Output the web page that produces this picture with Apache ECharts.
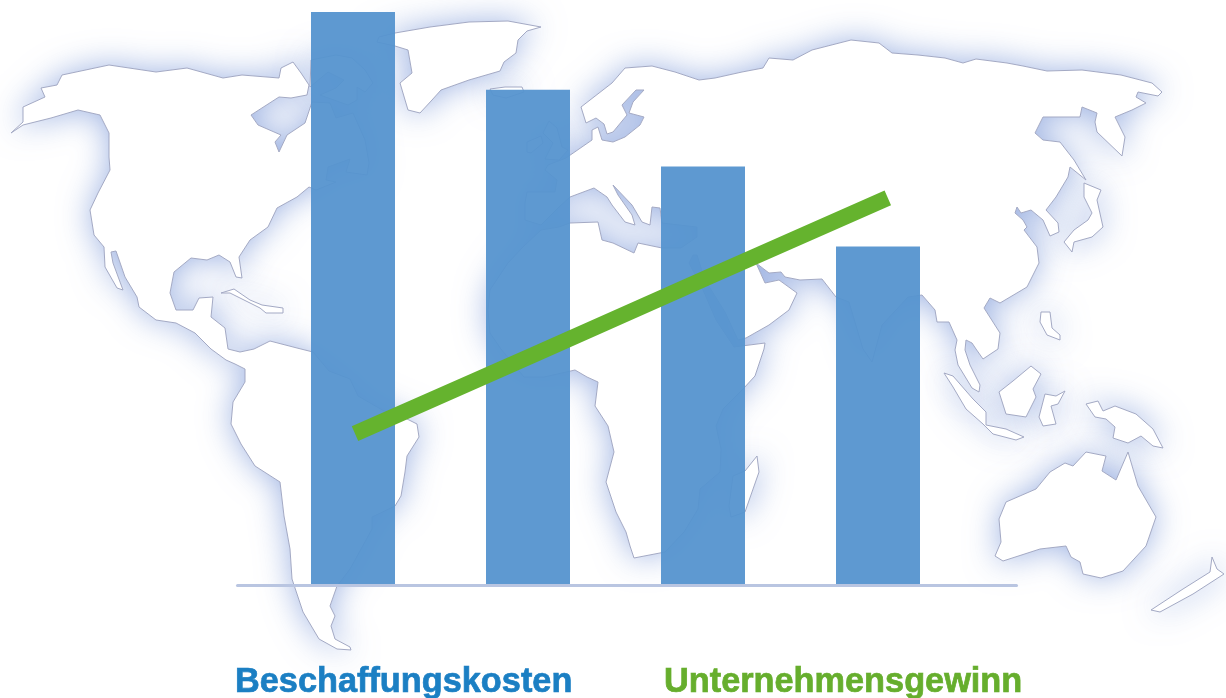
<!DOCTYPE html>
<html>
<head>
<meta charset="utf-8">
<title>Beschaffungskosten und Unternehmensgewinn</title>
<script src="https://cdn.jsdelivr.net/npm/echarts@6/dist/echarts.min.js"></script>
<style>
  html, body { margin: 0; padding: 0; background: #fff; }
  #chart { width: 1226px; height: 698px; }
</style>
</head>
<body>
<div id="chart"></div>
<script>
// chart values
const categories = ['A', 'B', 'C', 'D'];
const costName = 'Beschaffungskosten';
const profitName = 'Unternehmensgewinn';
const costValues = [100, 86.4, 73, 59];
const profitValues = [26.3, 40, 53.8, 67.5];

// background artwork: world map outline, in page pixels
const northAmerica = [[11,133],[23,125],[51,118],[78,110],[100,115],[109,133],[109,157],[110,170],[98,193],[90,210],[94,235],[104,247],[105,267],[117,288],[123,290],[113,263],[111,252],[116,251],[125,277],[137,297],[139,307],[156,320],[176,323],[195,333],[211,349],[226,360],[235,364],
  [245,369],[245,382],[233,402],[231,424],[241,444],[255,466],[280,482],[284,516],[290,549],[292,579],[303,612],[319,639],[337,649],[351,650],[350,647],[335,639],[331,626],[335,616],[330,606],[337,586],[350,569],[372,529],[372,517],[395,506],[401,496],[405,472],[407,456],[419,437],[417,424],[407,419],[384,411],[358,396],[350,379],[329,371],[313,352],[297,348],[270,341],[254,349],[240,352],[228,349],
  [225,328],[211,317],[213,297],[199,298],[193,310],[176,310],[170,293],[174,272],[191,258],[207,260],[219,255],[230,262],[236,277],[242,278],[239,257],[250,240],[268,227],[277,208],[297,197],[309,187],[316,190],[336,182],[326,180],[328,167],[350,159],[346,172],[367,175],[369,163],[365,140],[353,113],[336,118],[330,103],[312,102],[305,123],[287,135],[279,152],[275,142],[281,135],[258,125],[251,115],[279,97],[291,98],[307,95],[309,85],[301,73],[293,62],[281,68],[279,78],[242,75],[223,78],[187,68],[156,72],[109,65],[62,75],[57,85],[41,88],[45,97],[23,107],[23,122]];
const baffin = [[311,60],[336,55],[352,58],[365,70],[373,83],[365,92],[357,87],[357,100],[348,105],[320,95],[336,88],[344,80],[328,72],[316,82],[310,87]];
const greenland = [[395,33],[430,27],[469,22],[508,21],[541,27],[527,31],[518,40],[516,53],[504,62],[500,71],[469,80],[441,90],[432,100],[420,113],[408,110],[400,83],[412,73],[408,50],[395,46],[377,42],[379,37]];
const iceland = [[490,89],[505,87],[522,87],[524,92],[506,98],[493,95]];
const britain = [[549,121],[557,128],[562,147],[568,150],[559,160],[545,159],[553,143],[543,133]];
const ireland = [[527,142],[541,136],[543,143],[531,153],[527,152]];
const eurasiaAfrica = [[581,107],[612,83],[625,68],[652,66],[675,72],[699,80],[715,78],[742,72],[763,68],[769,58],[793,60],[812,50],[851,40],[879,43],[892,53],[918,55],[945,58],[963,63],[976,59],[1007,63],[1023,66],[1047,71],[1082,70],[1121,75],[1152,83],[1162,92],[1158,96],[1138,92],[1136,97],[1146,103],[1132,110],[1115,117],[1125,137],[1122,156],[1097,132],[1095,122],[1097,113],[1082,107],[1080,117],[1043,117],[1035,133],[1043,140],[1060,142],[1074,160],[1086,180],[1070,167],[1068,177],[1056,197],[1046,210],[1058,223],[1059,232],[1050,236],[1043,220],[1031,210],[1021,213],[1017,207],[1015,213],[1023,220],[1027,227],[1024,230],[1037,247],[1039,263],[1027,287],[1000,303],[990,298],[984,308],[1000,333],[998,349],[983,359],[976,349],[972,343],[966,340],[965,350],[970,365],[980,385],[979,392],[972,388],[958,365],[955,350],[957,340],[949,322],[937,322],[935,310],[922,295],[908,297],[882,325],[872,362],[863,349],[849,302],[836,297],[822,279],[800,280],[785,277],[781,272],[769,273],[756,263],[765,283],[779,280],[797,293],[789,310],[769,325],[746,338],[738,340],[725,312],[705,280],[697,255],[693,255],
  [689,263],[703,290],[716,320],[734,347],[765,343],[764,349],[755,376],[743,389],[723,409],[716,426],[721,449],[720,472],[700,489],[698,509],[684,532],[665,552],[634,558],[630,546],[626,532],[616,512],[606,482],[614,452],[608,426],[595,406],[598,382],[587,377],[575,370],[544,377],[524,377],[501,349],[490,333],[488,310],[490,290],[508,263],[523,247],[541,230],
  [559,227],[570,223],[598,222],[602,240],[613,243],[634,253],[638,243],[662,248],[681,248],[697,237],[697,227],[662,223],[660,208],[652,207],[650,225],[642,222],[632,205],[613,185],[618,195],[632,215],[635,225],[625,222],[612,205],[607,197],[594,188],[570,197],[559,207],[541,225],[525,220],[525,203],[527,192],[555,192],[557,180],[545,170],[548,165],[566,158],[592,140],[592,130],[598,127],[602,140],[613,142],[625,137],[640,125],[644,117],[629,113],[633,102],[644,90],[636,90],[622,105],[627,115],[613,132],[607,134],[604,124],[596,118],[586,123]];
const madagascar = [[757,456],[759,472],[745,512],[731,517],[729,506],[733,476],[745,471]];
const japan = [[1084,183],[1101,190],[1097,200],[1103,227],[1092,237],[1074,242],[1072,252],[1064,242],[1074,230],[1088,220],[1092,213],[1084,197]];
const philippines = [[1041,312],[1050,312],[1052,328],[1060,335],[1060,340],[1047,335],[1040,322]];
const sumatra = [[944,373],[953,376],[973,399],[986,412],[986,425],[1006,429],[1024,437],[1016,440],[993,434],[983,424],[966,409],[953,387]];
const borneo = [[1031,366],[1041,374],[1033,389],[1036,397],[1026,417],[1006,414],[999,392],[1013,381]];
const sulawesi = [[1065,391],[1058,404],[1051,406],[1056,424],[1043,426],[1039,417],[1045,394],[1056,396]];
const newGuinea = [[1086,404],[1098,401],[1103,411],[1115,406],[1136,414],[1153,429],[1163,448],[1153,446],[1141,436],[1128,443],[1113,438],[1115,427],[1106,419],[1095,417]];
const australia = [[1006,502],[1036,489],[1050,472],[1065,463],[1073,466],[1086,452],[1106,456],[1102,471],[1116,480],[1128,452],[1138,486],[1156,517],[1146,546],[1123,571],[1101,578],[1083,574],[1080,562],[1071,557],[1066,546],[1040,549],[1003,561],[995,556],[1001,542],[999,519]];
const newZealand = [[1212,557],[1217,569],[1224,574],[1193,594],[1160,612],[1151,610],[1183,589],[1210,572]];
const cuba = [[221,293],[234,289],[250,300],[262,305],[283,308],[283,313],[266,313],[260,308],[244,300],[230,293]];
const landShapes = [northAmerica, baffin, greenland, iceland, britain, ireland, eurasiaAfrica, madagascar, japan, philippines, sumatra, borneo, sulawesi, newGuinea, australia, newZealand, cuba];

// 地图分两层画：先画光晕，再盖白色陆地，这样光晕不会落在别的陆地上
function buildMapGraphics() {
  const halo = landShapes.map(points => ({
    type: 'polygon',
    silent: true,
    shape: { points: points },
    style: { fill: '#fff', shadowBlur: 32, shadowColor: 'rgba(120,150,215,0.72)' }
  }));
  const land = landShapes.map(points => ({
    type: 'polygon',
    silent: true,
    shape: { points: points },
    style: { fill: '#fff', stroke: '#a3a9c4', lineWidth: 1 }
  }));
  return halo.concat(land);
}

const myChart = echarts.init(document.getElementById('chart'));
const hiddenY = i => ({ type: 'value', gridIndex: i, min: 0, max: 100, show: false });
const hiddenX = i => ({ type: 'category', gridIndex: i, data: categories, show: false });

const option = {
  animation: false,
  backgroundColor: '#fff',
  graphic: { elements: buildMapGraphics() },
  legend: [
    {
      data: [costName], left: 225, top: 660, itemWidth: 0, itemHeight: 0, selectedMode: false,
      textStyle: { color: '#1b7fc3', fontFamily: 'Liberation Sans', fontWeight: 'bold', fontSize: 34.3, textBorderColor: '#1b7fc3', textBorderWidth: 0.7 }
    },
    {
      data: [profitName], left: 653, top: 660, itemWidth: 0, itemHeight: 0, selectedMode: false,
      textStyle: { color: '#66ae2d', fontFamily: 'Liberation Sans', fontWeight: 'bold', fontSize: 34.3, textBorderColor: '#66ae2d', textBorderWidth: 0.7 }
    }
  ],
  grid: [
    { left: 265.5, width: 700, top: 12, height: 572 },
    { left: 266.2, width: 710.4, top: 12, height: 572 },
    { left: 237.5, width: 779, top: 12, height: 573 }
  ],
  xAxis: [
    hiddenX(0),
    hiddenX(1),
    {
      type: 'category', gridIndex: 2, data: categories,
      axisLine: { show: true, lineStyle: { color: '#b9c5e1', width: 3 } },
      axisTick: { show: false },
      axisLabel: { show: false }
    }
  ],
  yAxis: [hiddenY(0), hiddenY(1), hiddenY(2)],
  series: [
    {
      name: costName,
      type: 'bar',
      xAxisIndex: 0,
      yAxisIndex: 0,
      data: costValues,
      barWidth: 84,
      itemStyle: { color: '#5593cf', opacity: 0.95 }
    },
    {
      name: profitName,
      type: 'line',
      xAxisIndex: 1,
      yAxisIndex: 1,
      data: profitValues,
      showSymbol: false,
      lineStyle: { color: '#65b32e', width: 16, cap: 'butt' },
      z: 5
    }
  ]
};
myChart.setOption(option);
</script>
</body>
</html>
